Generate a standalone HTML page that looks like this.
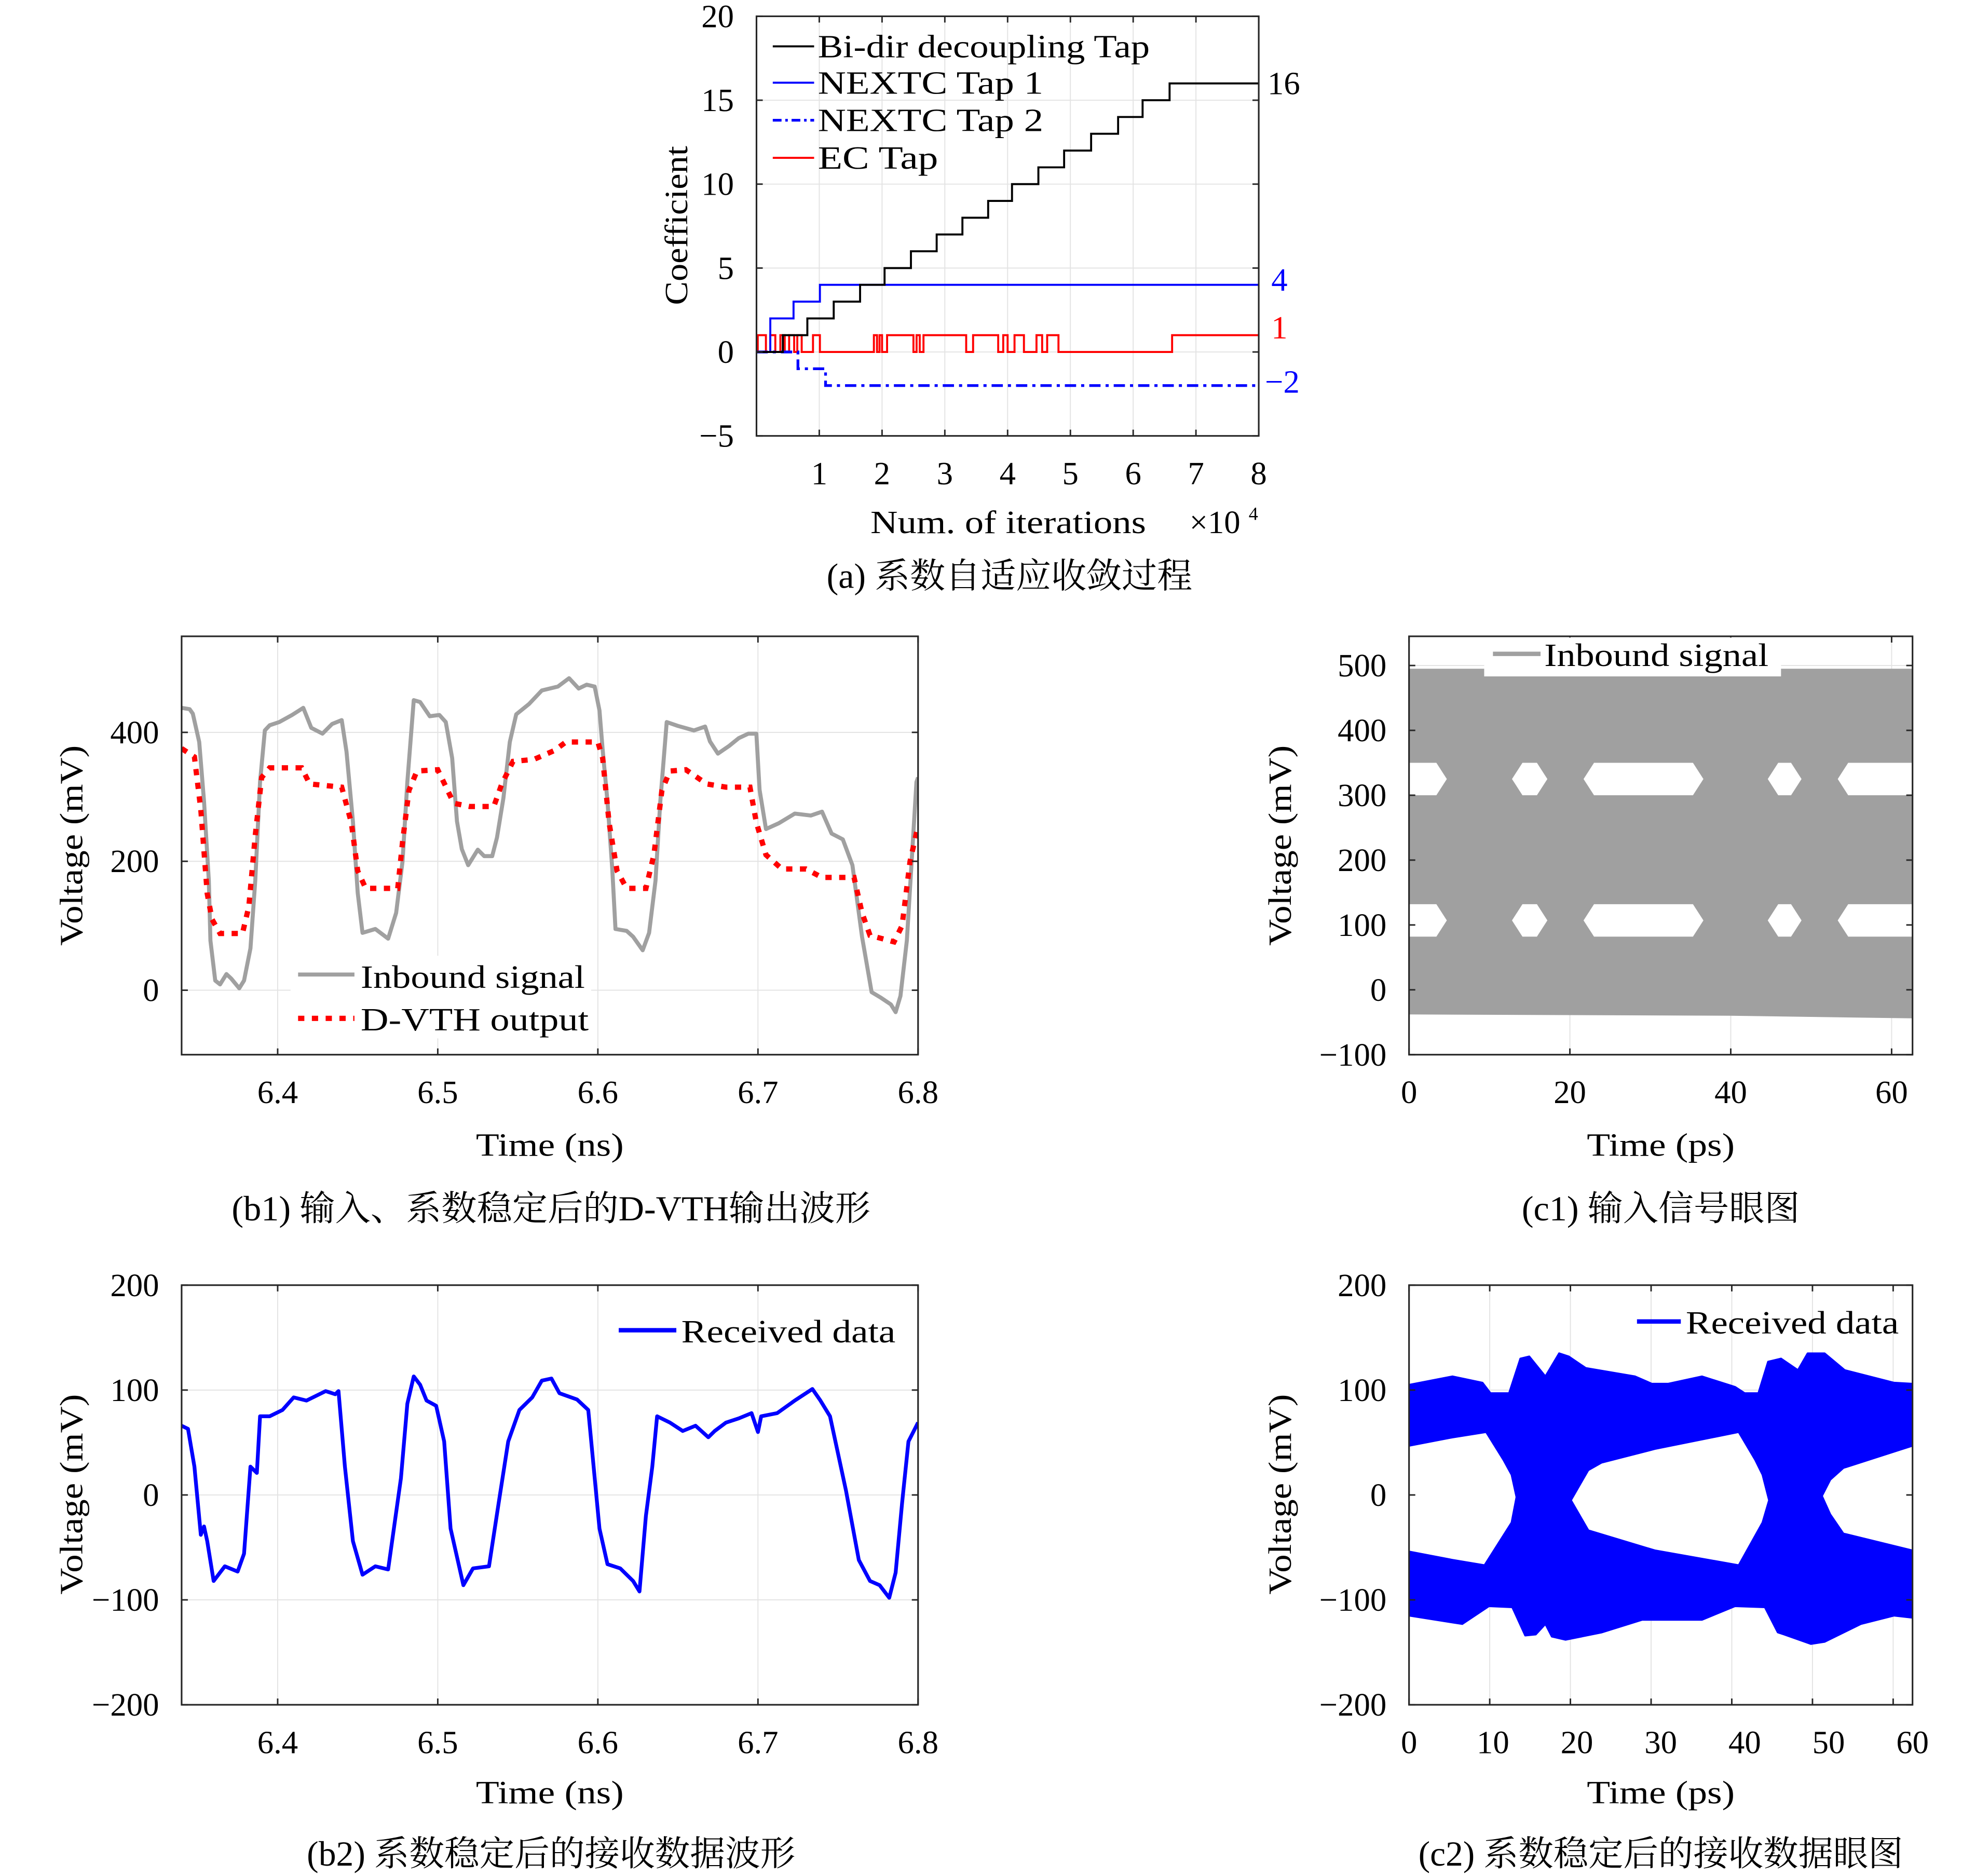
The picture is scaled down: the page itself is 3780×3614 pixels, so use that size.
<!DOCTYPE html>
<html><head><meta charset="utf-8"><style>
html,body{margin:0;padding:0;background:#fff}
svg{display:block}
text{font-family:"Liberation Serif","Noto Serif CJK SC","Noto Sans CJK SC",serif}
</style></head><body>
<svg id="fig" xmlns="http://www.w3.org/2000/svg" width="3780" height="3614" viewBox="0 0 1566.5 1497.7" preserveAspectRatio="none">
<rect width="1566.5" height="1497.7" fill="#fff"/>
<g id="gridL"></g><g id="dataL"></g><g id="axisL"></g><g id="textL"></g>
</svg>
<script>
// ---------- (a) data ----------
const bidirT=[0,0.42,0.81,1.23,1.65,2.04,2.46,2.87,3.28,3.69,4.07,4.49,4.9,5.33,5.76,6.15,6.58,8];
const bidirV=[0,1,2,3,4,5,6,7,8,9,10,11,12,13,14,15,16,16];
const tap1T=[0,0.22,0.59,1.01,8];
const tap1V=[0,2,3,4,4];
const tap2T=[0,0.66,1.1,8];
const tap2V=[0,-1,-2,-2];
const ecT=[0,0.02,0.15,0.22,0.3,0.38,0.45,0.52,0.6,0.65,0.72,0.9,1.01,1.82,1.87,1.92,1.96,2.0,2.08,2.45,2.5,2.55,2.6,2.66,2.71,3.34,3.45,3.85,3.93,4.0,4.11,4.26,4.46,4.55,4.63,4.81,6.62,8];
const ecV=[0,1,0,1,0,1,0,1,0,1,0,1,0,0,1,0,1,0,1,1,0,1,0,1,1,0,1,0,1,0,1,0,1,0,1,0,1,1];
const aYTicks=[-5,0,5,10,15,20];
const aXTicks=[1,2,3,4,5,6,7,8];
// ---------- (b1) data ----------
const inbT=[6.34,6.345,6.347,6.351,6.354,6.357,6.358,6.361,6.364,6.368,6.371,6.376,6.379,6.383,6.386,6.389,6.392,6.395,6.401,6.409,6.416,6.421,6.428,6.434,6.44,6.443,6.447,6.45,6.453,6.461,6.469,6.474,6.478,6.481,6.485,6.489,6.495,6.501,6.505,6.509,6.512,6.515,6.519,6.525,6.529,6.534,6.537,6.541,6.545,6.549,6.557,6.565,6.575,6.582,6.588,6.593,6.598,6.601,6.603,6.606,6.609,6.611,6.618,6.622,6.628,6.632,6.636,6.639,6.643,6.65,6.66,6.667,6.67,6.675,6.682,6.688,6.694,6.699,6.701,6.705,6.713,6.723,6.733,6.74,6.746,6.753,6.759,6.765,6.771,6.777,6.783,6.786,6.789,6.793,6.796,6.799,6.8];
const inbV=[438,436,429,385,293,170,77,15,9,25,18,3,15,65,170,323,403,411,416,427,438,407,398,413,419,370,262,151,89,95,80,120,200,323,450,447,425,427,416,360,262,219,194,218,208,208,237,298,385,428,444,465,471,484,468,474,471,434,373,293,188,95,92,83,62,89,170,293,416,410,403,409,386,367,379,391,398,398,311,250,259,274,271,277,243,234,194,83,-3,-12,-22,-34,-9,77,200,323,330];
const dvthT=[6.34,6.348,6.352,6.356,6.359,6.364,6.378,6.382,6.386,6.39,6.395,6.415,6.42,6.44,6.446,6.45,6.455,6.475,6.478,6.482,6.487,6.5,6.51,6.52,6.535,6.54,6.547,6.56,6.573,6.58,6.6,6.603,6.607,6.612,6.618,6.63,6.635,6.64,6.645,6.655,6.668,6.68,6.695,6.699,6.705,6.715,6.73,6.74,6.76,6.765,6.77,6.785,6.79,6.795,6.8];
const dvthV=[375,362,280,150,110,88,88,130,240,330,345,345,320,315,260,185,158,158,230,310,340,342,290,285,285,320,355,358,372,385,385,360,260,185,158,158,210,310,340,342,320,315,315,260,210,188,188,175,175,120,85,75,100,200,255];
const bXTicks=[6.4,6.5,6.6,6.7,6.8];
const b1YTicks=[0,200,400];
// ---------- (b2) data ----------
const rxT=[6.34,6.344,6.348,6.352,6.354,6.356,6.36,6.364,6.367,6.375,6.379,6.383,6.387,6.389,6.395,6.403,6.41,6.418,6.43,6.436,6.438,6.442,6.447,6.453,6.461,6.469,6.477,6.481,6.485,6.489,6.493,6.499,6.504,6.508,6.516,6.522,6.532,6.538,6.544,6.551,6.559,6.565,6.571,6.576,6.587,6.594,6.601,6.606,6.614,6.622,6.626,6.63,6.634,6.637,6.645,6.653,6.661,6.669,6.673,6.68,6.688,6.696,6.7,6.702,6.712,6.723,6.734,6.739,6.745,6.755,6.763,6.77,6.776,6.782,6.786,6.79,6.794,6.8];
const rxV=[66,63,27,-38,-30,-44,-82,-74,-68,-73,-56,27,21,75,75,81,93,90,99,96,99,27,-44,-76,-68,-71,16,87,113,105,90,85,51,-32,-86,-70,-68,-8,51,81,93,109,111,97,91,81,-32,-66,-70,-82,-92,-20,27,75,69,61,66,55,61,69,73,78,60,75,78,90,101,90,75,4,-62,-82,-86,-98,-74,-8,51,69];
const b2YTicks=[-200,-100,0,100,200];
// ---------- (c1) eye data ----------
const c1TopT=[0,62.6]; const c1TopV=[495,495];
const c1BotT=[0,40,62.6]; const c1BotV=[-38,-40,-44];
const c1Levels=[[300,350],[82,132]];
const c1Spans=[[-2,4.7],[12.8,17.2],[21.7,36.6],[44.6,48.8],[53.3,64]];
const cXTicks1=[0,20,40,60];
const c1YTicks=[-100,0,100,200,300,400,500];
// ---------- (c2) eye data ----------
const c2TopT=[0,5.4,9.1,10.1,12.4,13.8,14.9,16.9,18.6,19.8,21.9,28,30.1,32.1,36.3,40.4,41.6,43.3,44.5,46.1,48.2,49.4,51.5,54,60.1,62.4];
const c2TopV=[105,113,107,97,97,130,132,113,135,132,121,113,106,106,113,103,97,97,127,130,119,135,135,119,107,106];
const c2BotT=[0,6.6,9.9,12.8,14.4,15.7,16.9,17.7,19.4,23.9,28.9,36.3,40.4,44.1,45.7,46.5,49.8,51.5,56,60.1,62.4];
const c2BotV=[-115,-123,-106,-107,-134,-133,-123,-135,-138,-131,-119,-119,-106,-107,-131,-133,-142,-140,-123,-115,-117];
const hole1T=[0,5.4,9.5,11.6,12.6,13.2,12.6,9.3,5.4,0];
const hole1V=[46,54,59,33,19,-2,-26,-66,-61,-53];
const hole2T=[20.2,22.3,23.9,30.5,40.8,42.8,43.7,44.5,43.7,40.8,30.5,22.3];
const hole2V=[-5,23,30,43,59,33,19,-5,-26,-66,-52,-33];
const hole3T=[51.3,52.3,53.9,62.4,62.4,53.9,52.3];
const hole3V=[-1,14,25,46,-52,-36,-18];
const cXTicks2=[0,10,20,30,40,50,60];
const c2YTicks=[-200,-100,0,100,200];

const NS='http://www.w3.org/2000/svg';
function mk(tag,attrs,parent){const e=document.createElementNS(NS,tag);for(const k in attrs)e.setAttribute(k,attrs[k]);(parent||document.getElementById('dataL')).appendChild(e);return e;}
function scale(d0,d1,p0,p1){return v=>p0+(v-d0)*(p1-p0)/(d1-d0);}
function txt(s,x,y,opt){const g=document.getElementById('textL');const e=mk('text',{x:x,y:y,'font-size':opt.fs||26,'text-anchor':opt.anchor||'middle','dominant-baseline':'central'},g);e.style.fill=opt.fill||'#000';if(opt.len){e.setAttribute('textLength',opt.len);e.setAttribute('lengthAdjust','spacingAndGlyphs');}if(opt.rot)e.setAttribute('transform','rotate(-90 '+x+' '+y+')');e.textContent=s;return e;}
function axes(name,X,Y,box,xt,yt,xfmt,yfmt,gridOn,labX){
  const [l,t,r,b]=box;const gl=document.getElementById('gridL'),al=document.getElementById('axisL');
  xt.forEach(v=>{const px=X(v);
    if(gridOn){const g=mk('line',{x1:px,x2:px,y1:t,y2:b,stroke:'#e3e3e3','stroke-width':0.8},gl);}
    mk('line',{x1:px,x2:px,y1:b,y2:b-5,stroke:'#262626','stroke-width':1.2},al);mk('line',{x1:px,x2:px,y1:t,y2:t+5,stroke:'#262626','stroke-width':1.2},al);
    const e=txt(xfmt(v),labX?labX(v):px,b+30,{});});
  yt.forEach(v=>{const py=Y(v);
    if(gridOn){const g=mk('line',{x1:l,x2:r,y1:py,y2:py,stroke:'#e3e3e3','stroke-width':0.8},gl);}
    mk('line',{x1:l,x2:l+5,y1:py,y2:py,stroke:'#262626','stroke-width':1.2},al);mk('line',{x1:r,x2:r-5,y1:py,y2:py,stroke:'#262626','stroke-width':1.2},al);
    const e=txt(yfmt(v),l-18,py,{anchor:'end'});});
  const bx=mk('rect',{x:l,y:t,width:r-l,height:b-t,fill:'none',stroke:'#262626','stroke-width':1.3},al);
  
}
const neg=v=>v<0?'\u2212'+(-v):''+v;
function stepPath(T,V,X,Y){let d='M'+X(T[0])+','+Y(V[0]);for(let i=1;i<T.length;i++){d+='H'+X(T[i])+'V'+Y(V[i]);}return d;}
function linePath(T,V,X,Y){return T.map((t,i)=>(i?'L':'M')+X(t).toFixed(2)+','+Y(V[i]).toFixed(2)).join('');}
function polyPts(T,V,X,Y){return T.map((t,i)=>X(t).toFixed(2)+','+Y(V[i]).toFixed(2)).join(' ');}
function clip(id,box){const defs=mk('clipPath',{id:id},document.getElementById('fig'));mk('rect',{x:box[0],y:box[1],width:box[2]-box[0],height:box[3]-box[1]},defs);}

// ===== (a) =====
(function(){const box=[604,13,1005,348];const X=scale(0,8,604,1005),Y=scale(-5,20,348,13);
axes('coef',X,Y,box,aXTicks,aYTicks,v=>''+v,neg,true);clip('ca',box);
const g=mk('g',{'clip-path':'url(#ca)'});
let p;
p=mk('path',{d:stepPath(ecT,ecV,X,Y),fill:'none',stroke:'#ff0000','stroke-width':1.6},g);
p=mk('path',{d:stepPath(tap2T,tap2V,X,Y),fill:'none',stroke:'#0000ff','stroke-width':2.2,'stroke-dasharray':'9,4,2.5,4'},g);
p=mk('path',{d:stepPath(tap1T,tap1V,X,Y),fill:'none',stroke:'#0000ff','stroke-width':1.6},g);
p=mk('path',{d:stepPath(bidirT,bidirV,X,Y),fill:'none',stroke:'#000','stroke-width':1.6},g);
const leg=[['Bi-dir decoupling Tap','#000',null,265],['NEXTC Tap 1','#0000ff',null,180],['NEXTC Tap 2','#0000ff','7,3,2,3',180],['EC Tap','#ff0000',null,96]];
const ly=[37,66,96,126];
leg.forEach((L,i)=>{const a={x1:617,x2:650,y1:ly[i],y2:ly[i],stroke:L[1],'stroke-width':L[2]?2.2:1.6};if(L[2])a['stroke-dasharray']=L[2];const ln=mk('line',a,document.getElementById('textL'));
 const e=txt(L[0],653,ly[i],{anchor:'start',len:L[3]});});
let e;
e=txt('16',1012,Y(bidirV[bidirV.length-1]),{anchor:'start'});
e=txt('4',1015,Y(tap1V[tap1V.length-1])-4,{anchor:'start',fill:'#0000ff'});
e=txt('1',1015,Y(ecV[ecV.length-1])-6,{anchor:'start',fill:'#ff0000'});
e=txt('\u22122',1010,Y(tap2V[tap2V.length-1])-3,{anchor:'start',fill:'#0000ff'});
e=txt('Num. of iterations',805,417,{len:220});
e=txt('\u00d710',970,417,{});
e=txt('4',997,410,{fs:15,anchor:'start'});
e=txt('Coefficient',540,180,{rot:true,len:127});
e=txt('(a) 系数自适应收敛过程',806,460,{fs:28,len:292});
})();

// ===== (b1) =====
(function(){const box=[145,508,733,842];const X=scale(6.34,6.8,145,733),Y=scale(-100,549,842,508);
axes('b1',X,Y,box,bXTicks,b1YTicks,v=>v.toFixed(1),v=>''+v,true);clip('cb1',box);
const g=mk('g',{'clip-path':'url(#cb1)'});
let p=mk('path',{d:linePath(inbT,inbV,X,Y),fill:'none',stroke:'#a0a0a0','stroke-width':3.2,'stroke-linejoin':'round'},g);
p=mk('path',{d:linePath(dvthT,dvthV,X,Y),fill:'none',stroke:'#ff0000','stroke-width':4.2,'stroke-dasharray':'5,6'},g);
const tl=document.getElementById('textL');
let r=mk('rect',{x:232,y:763,width:240,height:66,fill:'#fff'},tl);
let l=mk('line',{x1:238,x2:283,y1:778,y2:778,stroke:'#a0a0a0','stroke-width':3.2},tl);
l=mk('line',{x1:238,x2:283,y1:813,y2:813,stroke:'#ff0000','stroke-width':4.2,'stroke-dasharray':'5,6'},tl);
let e=txt('Inbound signal',288,780,{anchor:'start',len:179});
e=txt('D-VTH output',288,814,{anchor:'start',len:182});
e=txt('Time (ns)',439,914,{len:118});
e=txt('Voltage (mV)',57,675,{rot:true,len:160});
e=txt('(b1) 输入、系数稳定后的D-VTH输出波形',440,965,{fs:28,len:510});
})();

// ===== (c1) =====
(function(){const box=[1125,508,1527,842];const X=scale(0,62.6,1125,1527),Y=scale(-100,545,842,508);
axes('c1',X,Y,box,cXTicks1,c1YTicks,v=>''+v,neg,true);clip('cc1',box);
const g=mk('g',{'clip-path':'url(#cc1)'});
const T=c1TopT.concat(c1BotT.slice().reverse()),V=c1TopV.concat(c1BotV.slice().reverse());
let p=mk('polygon',{points:polyPts(T,V,X,Y),fill:'#a0a0a0'},g);
c1Levels.forEach(lv=>{c1Spans.forEach(sp=>{const m=(lv[0]+lv[1])/2,w=1.3;
 const hT=[sp[0],sp[0]+w,sp[1]-w,sp[1],sp[1]-w,sp[0]+w],hV=[m,lv[1],lv[1],m,lv[0],lv[0]];
 const h=mk('polygon',{points:polyPts(hT,hV,X,Y),fill:'#fff'},g);});});
const tl=document.getElementById('textL');
let r=mk('rect',{x:1185,y:509,width:237,height:31,fill:'#fff'},tl);
let l=mk('line',{x1:1192,x2:1230,y1:522,y2:522,stroke:'#a0a0a0','stroke-width':3.5},tl);
let e=txt('Inbound signal',1233,523,{anchor:'start',len:179});
e=txt('Time (ps)',1326,914,{len:118});
e=txt('Voltage (mV)',1022,675,{rot:true,len:160});
e=txt('(c1) 输入信号眼图',1326,965,{fs:28,len:222});
})();

// ===== (b2) =====
(function(){const box=[145,1026,733,1361];const X=scale(6.34,6.8,145,733),Y=scale(-200,200,1361,1026);
axes('b2',X,Y,box,bXTicks,b2YTicks,v=>v.toFixed(1),neg,true);clip('cb2',box);
const g=mk('g',{'clip-path':'url(#cb2)'});
let p=mk('path',{d:linePath(rxT,rxV,X,Y),fill:'none',stroke:'#0000ff','stroke-width':3,'stroke-linejoin':'round'},g);
const tl=document.getElementById('textL');
let l=mk('line',{x1:494,x2:540,y1:1062,y2:1062,stroke:'#0000ff','stroke-width':3.5},tl);
let e=txt('Received data',544,1063,{anchor:'start',len:171});
e=txt('Time (ns)',439,1431,{len:118});
e=txt('Voltage (mV)',57,1193,{rot:true,len:160});
e=txt('(b2) 系数稳定后的接收数据波形',440,1480,{fs:28,len:390});
})();

// ===== (c2) =====
(function(){const box=[1125,1026,1527,1361];const X=scale(0,62.4,1125,1527),Y=scale(-200,200,1361,1026);
const LX=scale(0,60,1125,1527);
axes('c2',X,Y,box,cXTicks2,c2YTicks,v=>''+v,neg,true,LX);clip('cc2',box);
const g=mk('g',{'clip-path':'url(#cc2)'});
const T=c2TopT.concat(c2BotT.slice().reverse()),V=c2TopV.concat(c2BotV.slice().reverse());
let p=mk('polygon',{points:polyPts(T,V,X,Y),fill:'#0000ff',stroke:'#0000ff','stroke-width':1.5,'stroke-linejoin':'round'},g);
[[hole1T,hole1V],[hole2T,hole2V],[hole3T,hole3V]].forEach(h=>{const q=mk('polygon',{points:polyPts(h[0],h[1],X,Y),fill:'#fff'},g);});
const tl=document.getElementById('textL');
let l=mk('line',{x1:1307,x2:1342,y1:1055,y2:1055,stroke:'#0000ff','stroke-width':3.5},tl);
let e=txt('Received data',1346,1056,{anchor:'start',len:170});
e=txt('Time (ps)',1326,1431,{len:118});
e=txt('Voltage (mV)',1022,1193,{rot:true,len:160});
e=txt('(c2) 系数稳定后的接收数据眼图',1326,1480,{fs:28,len:387});
})();
</script>
</body></html>
